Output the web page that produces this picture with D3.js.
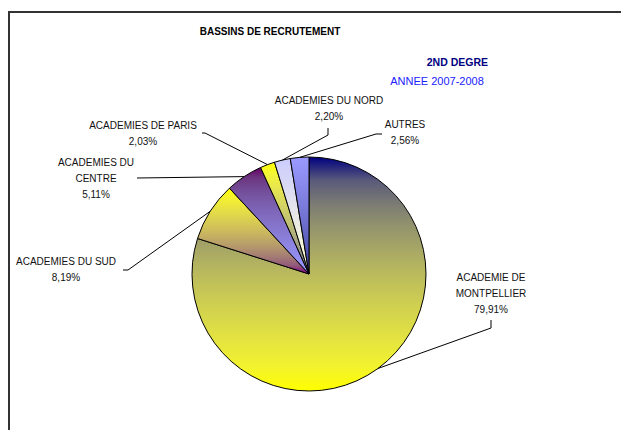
<!DOCTYPE html>
<html>
<head>
<meta charset="utf-8">
<script src="https://cdn.jsdelivr.net/npm/d3@7"></script>
<style>
  body { margin: 0; background: #fff; }
  svg text { font-family: "Liberation Sans", Arial, sans-serif; }
</style>
</head>
<body>
<div id="chart"></div>
<script>
// data
const categories = [
  ['ACADEMIE DE', 'MONTPELLIER'],
  ['ACADEMIES DU SUD'],
  ['ACADEMIES DU', 'CENTRE'],
  ['ACADEMIES DE PARIS'],
  ['ACADEMIES DU NORD'],
  ['AUTRES']
];
const values = [79.91, 8.19, 5.11, 2.03, 2.20, 2.56];

// gradient colours per slice (top -> bottom)
const topColors = ['#000080', '#ffff00', '#660066', '#ffff00', '#ccccff', '#9999ff'];
const bottomColors = ['#ffff00', '#800080', '#9999ff', '#666699', '#ffffcc', '#333399'];

// label layout: text centre x, first line y, leader points from label towards the slice
const labelLayout = [
  {x: 491, y: 281, leader: [[491, 320], [491, 328]]},
  {x: 66, y: 265, leader: [[123, 270], [128, 270]]},
  {x: 96, y: 166, leader: [[137, 178]]},
  {x: 143, y: 129, leader: [[202, 133], [205, 133]]},
  {x: 329, y: 104, leader: [[328, 128], [328, 135]]},
  {x: 405, y: 128, leader: [[382, 134], [376, 134]]}
];

const width = 621;
const height = 430;
const cx = 309;
const cy = 274;
const radius = 117;

const svg = d3.select('#chart').append('svg')
  .attr('width', width)
  .attr('height', height);

// frame
svg.append('rect')
  .attr('x', 9)
  .attr('y', 12)
  .attr('width', 640)
  .attr('height', 450)
  .attr('fill', 'none')
  .attr('stroke', '#333')
  .attr('stroke-width', 2);

// gradients, blended in linear light so the light colour spreads like the original
const defs = svg.append('defs');
values.forEach((v, i) => {
  const interp = d3.interpolateRgb.gamma(2.2)(topColors[i], bottomColors[i]);
  const g = defs.append('linearGradient')
    .attr('id', 'grad' + i)
    .attr('x1', 0).attr('y1', 0)
    .attr('x2', 0).attr('y2', 1);
  d3.range(0, 1.0001, 0.1).forEach(t => {
    g.append('stop').attr('offset', t).attr('stop-color', interp(t));
  });
});

const pie = d3.pie().sort(null).value(d => d);
const arcs = pie(values);
const arc = d3.arc().innerRadius(0).outerRadius(radius);

const pieG = svg.append('g')
  .attr('transform', `translate(${cx}, ${cy})`);

pieG.selectAll('path')
  .data(arcs)
  .enter().append('path')
  .attr('d', arc)
  .attr('fill', (d, i) => `url(#grad${i})`)
  .attr('stroke', '#000')
  .attr('stroke-width', 1)
  .attr('stroke-linejoin', 'round');

// leader lines
const fmt = v => v.toFixed(2).replace('.', ',') + '%';

arcs.forEach((d, i) => {
  const mid = (d.startAngle + d.endAngle) / 2;
  const ex = cx + radius * Math.sin(mid);
  const ey = cy - radius * Math.cos(mid);
  const pts = labelLayout[i].leader.concat([[ex, ey]]);
  svg.append('path')
    .attr('d', d3.line()(pts))
    .attr('fill', 'none')
    .attr('stroke', '#000')
    .attr('stroke-width', 1);
});

// labels
arcs.forEach((d, i) => {
  const lay = labelLayout[i];
  const lines = categories[i].concat([fmt(values[i])]);
  const t = svg.append('text')
    .attr('text-anchor', 'middle')
    .style('font-size', '10px')
    .attr('fill', '#111');
  lines.forEach((l, j) => {
    t.append('tspan')
      .attr('x', lay.x)
      .attr('y', lay.y + j * 16)
      .text(l);
  });
});

// titles
svg.append('text')
  .attr('x', 270)
  .attr('y', 35)
  .attr('text-anchor', 'middle')
  .style('font-size', '10px')
  .style('font-weight', 'bold')
  .attr('fill', '#000')
  .text('BASSINS DE RECRUTEMENT');

svg.append('text')
  .attr('x', 488)
  .attr('y', 66)
  .attr('text-anchor', 'end')
  .style('font-size', '10.5px')
  .style('font-weight', 'bold')
  .attr('fill', '#000080')
  .text('2ND DEGRE');

svg.append('text')
  .attr('x', 437)
  .attr('y', 85)
  .attr('text-anchor', 'middle')
  .style('font-size', '11px')
  .attr('fill', '#2020ff')
  .text('ANNEE 2007-2008');
</script>
</body>
</html>
